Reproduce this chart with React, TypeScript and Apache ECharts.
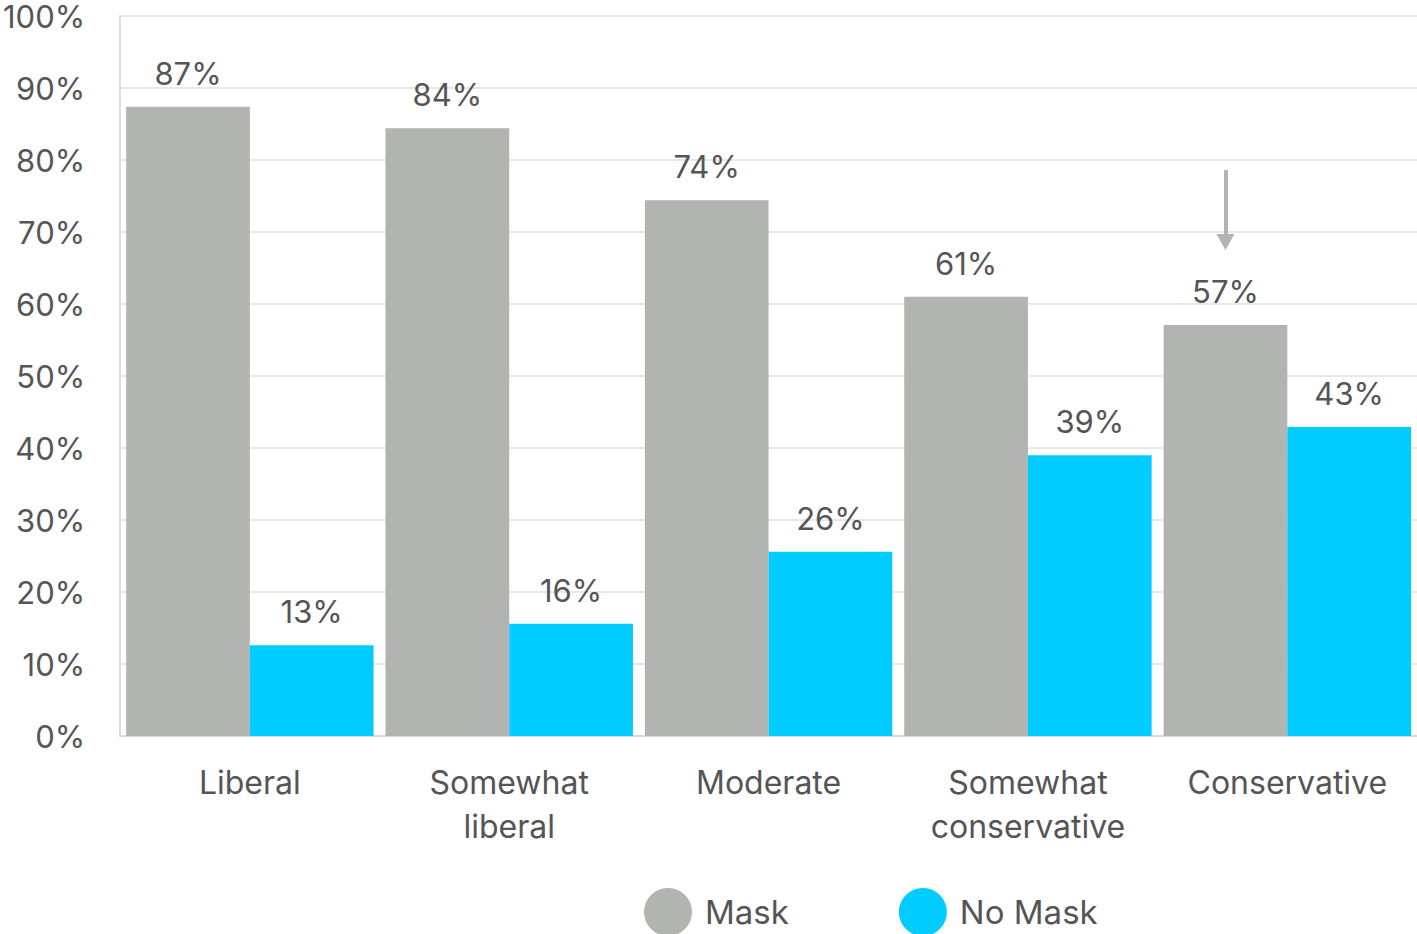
import React, { useEffect, useRef } from "react";
import * as echarts from "echarts";

const categories = ["Liberal", "Somewhat\nliberal", "Moderate", "Somewhat\nconservative", "Conservative"];
const maskValues = [87.4, 84.4, 74.4, 61.0, 57.1];
const noMaskValues = [12.6, 15.6, 25.6, 39.0, 42.9];
const arrowFrom = 78.6;
const arrowTo = 68.6;

const FONT = "Inter, 'Noto Sans', sans-serif";
const TEXT = "#555555";
const GREY = "#b2b4b2";
const CYAN = "#00ccff";

export default function App() {
  const ref = useRef<HTMLDivElement>(null);
  useEffect(() => {
    document.body.style.margin = "0";
    const chart = echarts.init(ref.current!, null, { renderer: "svg" });
    const labelCfg = {
      show: true,
      position: "top" as const,
      distance: 18,
      fontSize: 31,
      fontFamily: FONT,
      color: TEXT,
      formatter: (p: any) => Math.round(p.value) + "%",
    };
    chart.setOption({
      animation: false,
      textStyle: { fontFamily: FONT },
      grid: { left: 117, width: 1302, top: 16, height: 720, containLabel: false },
      legend: {
        left: 639,
        top: 883,
        icon: "circle",
        itemWidth: 48,
        itemHeight: 48,
        itemGap: 110,
        textStyle: { fontSize: 33, color: TEXT, fontFamily: FONT, padding: [0, 0, 0, 8] },
        data: ["Mask", "No Mask"],
      },
      xAxis: {
        type: "category",
        data: categories,
        axisLine: { show: true, lineStyle: { color: "#d9d9d9", width: 2 } },
        axisTick: { show: false },
        axisLabel: {
          interval: 0,
          margin: 24,
          fontSize: 32,
          lineHeight: 44,
          color: TEXT,
          fontFamily: FONT,
        },
      },
      yAxis: {
        type: "value",
        min: 0,
        max: 100,
        interval: 10,
        axisLine: { show: true, lineStyle: { color: "#dddddd", width: 2 } },
        axisTick: { show: false },
        axisLabel: {
          formatter: "{value}%",
          fontSize: 31,
          lineHeight: 30,
          margin: 35,
          color: TEXT,
          fontFamily: FONT,
        },
        splitLine: { show: true, lineStyle: { color: "#e8e8e8", width: 2 } },
      },
      series: [
        {
          name: "Mask",
          type: "bar",
          data: maskValues,
          barGap: "0%",
          barCategoryGap: "4.6%",
          itemStyle: { color: GREY },
          label: labelCfg,
          markLine: {
            silent: true,
            symbol: ["none", "triangle"],
            symbolSize: [18, 16],
            label: { show: false },
            lineStyle: { color: GREY, width: 4, type: "solid" },
            data: [
              [
                { coord: [4, arrowFrom] },
                { coord: [4, arrowTo] },
              ],
            ],
          },
        },
        {
          name: "No Mask",
          type: "bar",
          data: noMaskValues,
          barGap: "0%",
          barCategoryGap: "4.6%",
          itemStyle: { color: CYAN },
          label: labelCfg,
        },
      ],
    });
    return () => chart.dispose();
  }, []);
  return <div ref={ref} style={{ width: 1417, height: 934 }} />;
}
